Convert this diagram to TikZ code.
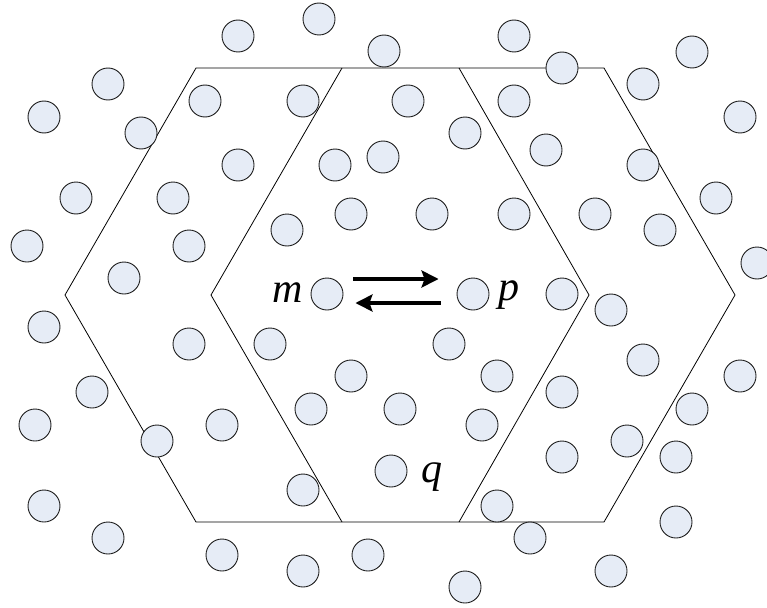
\documentclass[tikz,border=0pt]{standalone}
\usepackage{fontspec}
\setmainfont{Liberation Serif}
\usetikzlibrary{arrows.meta}
\definecolor{dotfill}{RGB}{230,236,246}
\definecolor{dotline}{RGB}{30,30,30}
\tikzset{
  dot/.style={circle,draw=dotline,fill=dotfill,line width=0.9pt,minimum size=32pt,inner sep=0pt},
  cell/.style={draw=black,line width=0.8pt,line join=miter},
  arr/.style={line width=3.4pt,-{Stealth[length=17pt,width=17pt,inset=3pt]}},
  lab/.style={inner sep=0pt,anchor=base,font=\fontsize{42}{50}\selectfont\itshape}
}
\begin{document}
\begin{tikzpicture}[x=1pt,y=-1pt]
\useasboundingbox (0,0) rectangle (767,607);
% cells
\draw[cell] (65,295) -- (196,68) -- (604,68) -- (735,295) -- (604,522) -- (196,522) -- cycle;
\draw[cell] (342,68) -- (211,295) -- (342,522);
\draw[cell] (459,68) -- (589,295) -- (459,522);
% particles
\foreach \n/\x/\y in {
 1/238/36, 2/319/19, 3/384/51, 4/514/36, 5/562/68, 6/692/52,
 7/108/84, 8/44/117, 9/141/133, 10/205/101, 11/303/101, 12/408/101,
 13/514/101, 14/465/133, 15/643/84, 16/740/117, 17/546/150, 18/238/165,
 19/335/165, 20/383/157, 21/643/165, 22/76/198, 23/173/198, 24/351/214,
 25/432/214, 26/514/214, 27/595/214, 28/716/198, 29/287/230, 30/660/230,
 31/27/246, 32/189/246, 33/757/263, 34/124/278, 37/562/294,
 38/611/310, 39/44/327, 40/189/344, 41/270/344, 42/449/344, 43/643/360,
 44/351/376, 45/497/376, 46/740/376, 47/92/392, 48/562/392, 49/311/409,
 50/400/409, 51/692/409, 52/35/425, 53/222/425, 54/482/425, 55/157/441,
 56/627/441, 57/562/457, 58/676/457, 60/303/490, 61/497/506,
 62/44/506, 63/676/522, 64/108/538, 65/530/538, 66/222/555, 67/368/555,
 68/303/571, 69/611/571, 70/465/587}
 \node[dot] (c\n) at (\x,\y) {};
\node[dot] (cm) at (327,294) {};
\node[dot] (cp) at (473,294) {};
\node[dot] (cq) at (391,471) {};
% labels
\node[lab] (lm) at (288,302) {m};
\node[lab] (lp) at (509,300) {p};
\node[lab] (lq) at (432,482) {q};
% exchange arrows
\draw[arr] ([xshift=10pt,yshift=15pt]cm.east) -- ([xshift=-18pt,yshift=15pt]cp.west);
\draw[arr] ([xshift=-16pt,yshift=-9pt]cp.west) -- ([xshift=12pt,yshift=-9pt]cm.east);
\end{tikzpicture}
\end{document}
